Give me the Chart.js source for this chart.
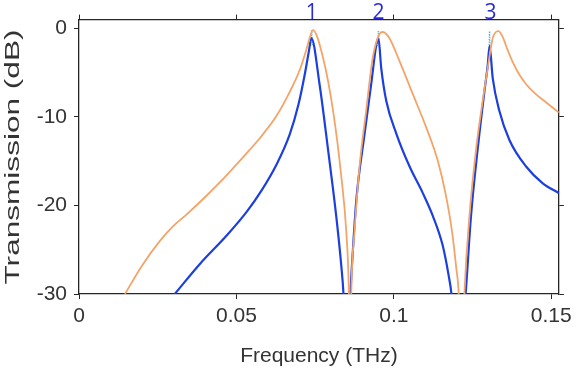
<!DOCTYPE html>
<html>
<head>
<meta charset="utf-8">
<script src="https://cdn.jsdelivr.net/npm/chart.js@4/dist/chart.umd.min.js"></script>
<style>
  html, body { margin: 0; padding: 0; background: #fff; }
  #wrap { width: 577px; height: 377px; }
</style>
</head>
<body>
<div id="wrap"><canvas id="chart" width="577" height="377"></canvas></div>
<script>
// transmission spectra (frequency in THz, level in dB)
const orangeFreq = [0.0146, 0.0200, 0.0257, 0.0300, 0.0342, 0.0405, 0.0447, 0.0489, 0.0530, 0.0574,
  0.0627, 0.0669, 0.0701, 0.0722, 0.0735, 0.0743, 0.0775, 0.0807, 0.0833, 0.0849,
  0.0857, 0.0861, 0.0865, 0.0875, 0.0891, 0.0912, 0.0933, 0.0955, 0.0965, 0.0986,
  0.1018, 0.1060, 0.1103, 0.1140, 0.1165, 0.1185, 0.1198, 0.1206, 0.1215, 0.1224,
  0.1240, 0.1261, 0.1282, 0.1298, 0.1314, 0.1332, 0.1345, 0.1360, 0.1375, 0.1395,
  0.1420, 0.1450, 0.1485, 0.1524];
const orangeDb = [-30, -26.8, -24.0, -22.3, -21.0, -18.9, -17.4, -15.8, -14.2, -12.4,
  -9.9, -7.2, -4.7, -2.4, -0.8, -0.2, -3.3, -9.3, -16.7, -23.0,
  -29.7, -40, -29.7, -23, -15.6, -9.3, -3.3, -0.6, -0.4, -1.1,
  -3.7, -7.4, -11.2, -15.0, -18.8, -23.0, -27.0, -30, -40, -30,
  -21.2, -13.7, -8.2, -4.5, -1.1, -0.3, -0.9, -2.3, -3.6, -5.0,
  -6.3, -7.4, -8.4, -9.5];

const blueFreq = [0.0304, 0.0384, 0.0469, 0.0533, 0.0580, 0.0627, 0.0669, 0.0697, 0.0717, 0.0730,
  0.0738, 0.0764, 0.0791, 0.0817, 0.0833, 0.0840, 0.0851, 0.0862, 0.0870, 0.0881,
  0.0907, 0.0928, 0.0944, 0.0951, 0.0960, 0.0976, 0.1008, 0.1050, 0.1092, 0.1124,
  0.1155, 0.1174, 0.1183, 0.1205, 0.1228, 0.1245, 0.1266, 0.1288, 0.1298, 0.1304,
  0.1314, 0.1335, 0.1367, 0.1420, 0.1473, 0.1524];
const blueDb = [-30, -26.6, -23.4, -20.7, -18.3, -15.4, -12.0, -8.6, -5.2, -2.6,
  -1.1, -6.3, -13.7, -21.2, -26.8, -30, -40, -30, -25, -19.3,
  -11.9, -6.3, -1.9, -1.1, -4.5, -8.2, -11.9, -15.6, -18.6, -21.2,
  -24.5, -27.9, -30, -40, -30, -21.2, -13.7, -7.0, -4.2, -2.0,
  -5.6, -9.3, -12.6, -15.6, -17.5, -18.6];

// dotted light-blue trace, only visible at the resonance tops
const dotFreq = [0.0735, 0.0739, 0.0742, 0.0745, 0.0947, 0.0951, 0.0954, 0.1300, 0.1302, 0.1304, 0.1306];
const dotDb = [-2.0, -0.2, -2.0, null, -2.0, -0.3, -2.0, null, -3.0, -0.3, -3.0];

const peakLabels = ['1', '2', '3'];
const peakLabelFreq = [0.0739, 0.0951, 0.1307];

const xTicks = [0, 0.05, 0.1, 0.15];
const yTicks = [-30, -20, -10, 0];

const axisColor = '#262626';
const textColor = '#333333';

function toPoints(xs, ys) {
    return xs.map((x, i) => ({ x: x, y: ys[i] }));
}

// numbered markers above the peaks
const peakLabelPlugin = {
    id: 'peakLabels',
    afterDraw(chart) {
        let ctx = chart.ctx;
        let xs = chart.scales.x;
        ctx.save();
        ctx.fillStyle = '#2a2ad8';
        ctx.font = '21px "Open Sans", sans-serif';
        ctx.textAlign = 'center';
        ctx.textBaseline = 'alphabetic';
        peakLabels.forEach((lab, i) => {
            ctx.fillText(lab, xs.getPixelForValue(peakLabelFreq[i]), chart.chartArea.top - 1);
        });
        ctx.restore();
    }
};

// y title is drawn long and narrow as in the source figure
const yTitlePlugin = {
    id: 'yTitle',
    afterDraw(chart) {
        let ctx = chart.ctx;
        ctx.save();
        ctx.font = '21px "Liberation Sans", Arial, sans-serif';
        ctx.fillStyle = textColor;
        let txt = 'Transmission (dB)';
        let w = ctx.measureText(txt).width;
        let target = 255;
        ctx.translate(13, 157);
        ctx.rotate(-Math.PI / 2);
        ctx.scale(target / w, 1);
        ctx.textAlign = 'center';
        ctx.textBaseline = 'middle';
        ctx.fillText(txt, 0, 0);
        ctx.restore();
    }
};

let ctx = document.getElementById('chart').getContext('2d');
new Chart(ctx, {
    type: 'line',
    data: {
        datasets: [
            {
                label: 'orange',
                data: toPoints(orangeFreq, orangeDb),
                borderColor: '#f4a468',
                borderWidth: 1.8,
                pointRadius: 0,
                cubicInterpolationMode: 'monotone',
                fill: false
            },
            {
                label: 'blue',
                data: toPoints(blueFreq, blueDb),
                borderColor: '#1c3fe0',
                borderWidth: 2.2,
                pointRadius: 0,
                cubicInterpolationMode: 'monotone',
                fill: false
            },
            {
                label: 'dotted',
                data: toPoints(dotFreq, dotDb),
                borderColor: '#5ab4e8',
                borderWidth: 1.5,
                borderDash: [1, 1.5],
                pointRadius: 0,
                spanGaps: false,
                fill: false
            }
        ]
    },
    options: {
        responsive: false,
        animation: false,
        layout: { padding: 0 },
        plugins: {
            legend: { display: false },
            tooltip: { enabled: false }
        },
        scales: {
            x: {
                type: 'linear',
                position: 'bottom',
                min: 0,
                max: 0.1524,
                afterFit: s => { s.height = 83; },
                afterBuildTicks: s => { s.ticks = xTicks.map(v => ({ value: v })); },
                border: { display: true, color: axisColor, width: 1.3 },
                grid: { drawOnChartArea: false, drawTicks: true, tickLength: 5, tickColor: axisColor },
                ticks: {
                    color: textColor,
                    font: { family: '"Liberation Sans", Arial, sans-serif', size: 21 },
                    padding: 5,
                    maxRotation: 0,
                    callback: v => String(+v.toFixed(2))
                },
                title: {
                    display: true,
                    text: 'Frequency (THz)',
                    color: textColor,
                    font: { family: '"Liberation Sans", Arial, sans-serif', size: 21 },
                    padding: { top: 0, bottom: 8 }
                }
            },
            x2: {
                type: 'linear',
                position: 'top',
                min: 0,
                max: 0.1524,
                afterFit: s => { s.height = 16; },
                afterBuildTicks: s => { s.ticks = xTicks.map(v => ({ value: v })); },
                border: { display: true, color: axisColor, width: 1.3 },
                grid: { drawOnChartArea: false, drawTicks: true, tickLength: 5, tickColor: axisColor },
                ticks: { display: false }
            },
            y: {
                type: 'linear',
                position: 'left',
                min: -30,
                max: 1,
                afterFit: s => { s.width = 79; },
                afterBuildTicks: s => { s.ticks = yTicks.map(v => ({ value: v })); },
                border: { display: true, color: axisColor, width: 1.3 },
                grid: { drawOnChartArea: false, drawTicks: true, tickLength: 5, tickColor: axisColor },
                ticks: {
                    color: textColor,
                    font: { family: '"Liberation Sans", Arial, sans-serif', size: 21 },
                    padding: 7
                }
            },
            y2: {
                type: 'linear',
                position: 'right',
                min: -30,
                max: 1,
                afterFit: s => { s.width = 18; },
                afterBuildTicks: s => { s.ticks = yTicks.map(v => ({ value: v })); },
                border: { display: true, color: axisColor, width: 1.3 },
                grid: { drawOnChartArea: false, drawTicks: true, tickLength: 5, tickColor: axisColor },
                ticks: { display: false }
            }
        }
    },
    plugins: [peakLabelPlugin, yTitlePlugin]
});
</script>
</body>
</html>
